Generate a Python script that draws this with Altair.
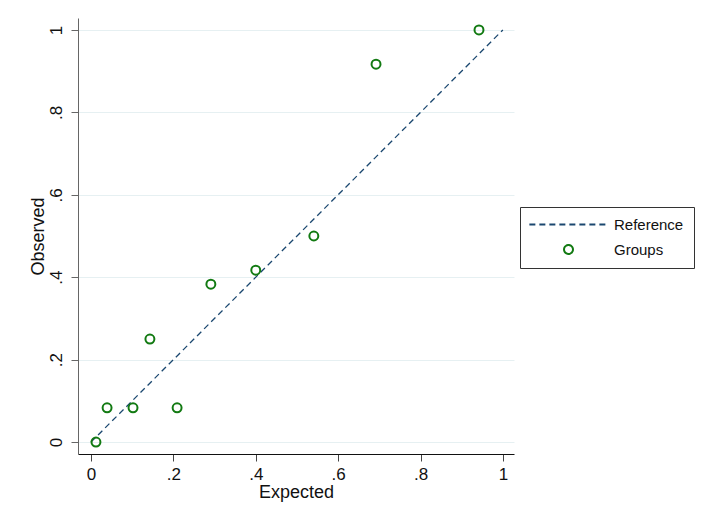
import altair as alt
import pandas as pd

expected = [0.012, 0.039, 0.102, 0.143, 0.209, 0.291, 0.400, 0.541, 0.692, 0.942]
observed = [0.0, 0.083, 0.083, 0.25, 0.083, 0.383, 0.417, 0.5, 0.917, 1.0]
ref_x = [0.0, 1.0]
ref_y = [0.0, 1.0]
series_names = ["Reference", "Groups"]
tick_vals = [0, 0.2, 0.4, 0.6, 0.8, 1]

pts = pd.DataFrame({"x": expected, "y": observed, "series": "Groups"})
ref = pd.DataFrame({"x": ref_x, "y": ref_y, "series": "Reference"})

LINE_C = "#1a476f"
PT_C = "#127a12"
FONT = "Liberation Sans"

label_expr = "datum.value == 0 ? '0' : datum.value == 1 ? '1' : replace(format(datum.value, '.1f'), '0.', '.')"

xenc = alt.X("x:Q", scale=alt.Scale(domain=[-0.0316, 1.027], nice=False, zero=False),
             axis=alt.Axis(values=tick_vals, labelExpr=label_expr, title="Expected", grid=False))
yenc = alt.Y("y:Q", scale=alt.Scale(domain=[-0.029, 1.029], nice=False, zero=False),
             axis=alt.Axis(values=tick_vals, labelExpr=label_expr, title="Observed", grid=True,
                           labelAngle=270, labelAlign="center", labelBaseline="bottom"))

dom = series_names
color = alt.Color("series:N", scale=alt.Scale(domain=dom, range=[LINE_C, PT_C]),
                  legend=alt.Legend(title=None))

line = alt.Chart(ref).mark_line(strokeWidth=1.3).encode(
    x=xenc, y=yenc, color=color,
    strokeDash=alt.StrokeDash("series:N", scale=alt.Scale(domain=dom, range=[[6, 4], [1, 0]]),
                              legend=alt.Legend(title=None)),
)
points = alt.Chart(pts).mark_point(filled=False, size=80, strokeWidth=2, opacity=1).encode(
    x=xenc, y=yenc, color=color,
    shape=alt.Shape("series:N", scale=alt.Scale(domain=dom, range=["M-8.75,0L8.75,0", "circle"]),
                    legend=alt.Legend(title=None)),
)

chart = alt.layer(line, points).properties(
    width=436, height=436,
    autosize=alt.AutoSizeParams(type="none"),
    padding={"left": 70, "top": 10, "right": 200, "bottom": 70},
).configure_view(stroke=None).configure_axis(
    labelFont=FONT, titleFont=FONT, labelFontSize=17, titleFontSize=18,
    labelColor="#111", titleColor="#111", titleFontWeight="normal",
    domainColor="#444", tickColor="#444", tickSize=7, gridColor="#e6f0f2", gridWidth=1,
).configure_axisX(labelPadding=5, titlePadding=1, domainColor="#111").configure_axisY(
    labelPadding=6, titlePadding=0, domainColor="#666", tickColor="#666"
).configure_legend(
    orient="none", legendX=442, legendY=189, strokeColor="#333", fillColor="white",
    padding=10, labelFont=FONT, labelFontSize=15, labelColor="#111",
    symbolSize=80, symbolStrokeWidth=2, symbolOffset=31, labelOffset=38, rowPadding=8,
)

chart.save("out.html", embed_options={"renderer": "svg", "actions": False})
